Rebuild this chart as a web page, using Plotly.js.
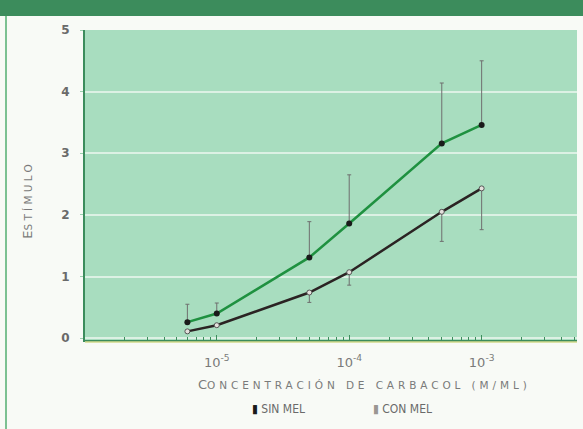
<!DOCTYPE html>
<html><head><meta charset="utf-8">
<script src="https://cdn.plot.ly/plotly-3.0.1.min.js"></script>
<style>
html,body{margin:0;padding:0;background:#f8faf6;overflow:hidden;}
#band{position:absolute;left:0;top:0;width:583px;height:16px;background:#3c8c5c;}
#edge{position:absolute;left:5px;top:16px;width:2px;height:413px;background:#7cc192;}
#chart{position:absolute;left:0;top:0;width:583px;height:429px;}
</style></head><body>
<div id="band"></div><div id="edge"></div><div id="chart"></div>
<script>
// Concentración de carbacol (M/ml)
const concentracion = [6e-6, 1e-5, 5e-5, 1e-4, 5e-4, 1e-3];
// Sin melatonina (green line, black markers)
const sinMel = [0.26, 0.40, 1.31, 1.86, 3.16, 3.46];
const sinMelErrSup = [0.29, 0.17, 0.58, 0.79, 0.98, 1.04];
// Con melatonina (dark line, light markers)
const conMel = [0.11, 0.21, 0.74, 1.07, 2.05, 2.43];
const conMelErrInf = [0, 0, 0.16, 0.21, 0.48, 0.67];
// Tick labels
const xTickVals = [1e-5, 1e-4, 1e-3];
const xTickText = ['10<sup>-5</sup>', '10<sup>-4</sup>', '10<sup>-3</sup>'];
const yTickVals = [0, 1, 2, 3, 4, 5];
// Legend names
const serieNames = ['SIN MEL', 'CON MEL'];

const sc = (big, rest, sp) => big + '<span style="font-size:10.5px;letter-spacing:' + sp + 'px">' + rest + '</span>';

const traces = [
  {
    x: concentracion, y: conMel, type: 'scatter', mode: 'lines+markers', showlegend: false,
    line: {color: '#2b2323', width: 2.5},
    marker: {color: '#e4e0dc', size: 5, symbol: 'circle', line: {color: '#555', width: 1}},
    error_y: {type: 'data', symmetric: false, array: conMelErrInf.map(() => 0), arrayminus: conMelErrInf,
              color: '#6f6f6f', thickness: 1, width: 2}
  },
  {
    x: concentracion, y: sinMel, type: 'scatter', mode: 'lines+markers', showlegend: false,
    line: {color: '#1f9140', width: 2.5},
    marker: {color: '#1a1a1a', size: 6, symbol: 'circle'},
    error_y: {type: 'data', symmetric: false, array: sinMelErrSup, arrayminus: sinMelErrSup.map(() => 0),
              color: '#6f6f6f', thickness: 1, width: 2}
  },
  {x: [null], y: [null], type: 'scatter', mode: 'markers',
   name: '<span style="color:#1a1a1a;font-weight:bold">▮</span> ' + serieNames[0],
   marker: {color: 'rgba(0,0,0,0)', size: 1, symbol: 'square', line: {width: 0}}},
  {x: [null], y: [null], type: 'scatter', mode: 'markers',
   name: '<span style="color:#9a9692;font-weight:bold">▮</span> ' + serieNames[1],
   marker: {color: 'rgba(0,0,0,0)', size: 1, symbol: 'square', line: {width: 0}}}
];

const layout = {
  width: 583, height: 429,
  margin: {l: 85, r: 6, t: 30, b: 87},
  paper_bgcolor: 'rgba(0,0,0,0)',
  plot_bgcolor: '#a8ddbf',
  font: {family: 'DejaVu Sans', color: '#6e6e6e'},
  xaxis: {
    type: 'log', range: [-5.995, -2.28],
    tickmode: 'array', tickvals: xTickVals, ticktext: xTickText,
    ticks: 'inside', ticklen: 5, tickcolor: '#3c8c5c', tickwidth: 1,
    minor: {dtick: 'D1', ticks: 'inside', ticklen: 3, tickcolor: '#3c8c5c', tickwidth: 1, showgrid: false},
    showgrid: false, zeroline: false,
    showline: true, linecolor: '#3c8c5c', linewidth: 2,
    tickfont: {size: 13, color: '#7a7a7a'},
    ticklabelstandoff: 9
  },
  yaxis: {
    range: [-0.03, 5], tickmode: 'array', tickvals: yTickVals,
    ticks: 'outside', ticklen: 3, tickcolor: '#9ccfae', tickwidth: 1,
    showgrid: true, gridcolor: '#dcf1e4', gridwidth: 2, zeroline: false,
    showline: true, linecolor: '#3c8c5c', linewidth: 2,
    tickfont: {size: 12, color: '#6a6a6a', weight: 'bold'},
    ticklabelstandoff: 8
  },
  annotations: [
    {text: sc('C', 'ONCENTRACIÓN DE CARBACOL (M/ML)', 3.9), xref: 'paper', yref: 'paper',
     x: 0.569, y: -0.144, xanchor: 'center', yanchor: 'middle', showarrow: false,
     font: {size: 13, color: '#7a7a7a'}},
    {text: sc('E', 'STÍMULO', 3.3), xref: 'paper', yref: 'paper', textangle: -90,
     x: -0.116, y: 0.452, xanchor: 'center', yanchor: 'middle', showarrow: false,
     font: {size: 13, color: '#7a7a7a'}}
  ],
  shapes: [
    {type: 'line', xref: 'paper', yref: 'paper', x0: 0, x1: 1,
     ysizemode: 'pixel', yanchor: 0, y0: -2, y1: -2, line: {color: '#d3da8c', width: 1.5}, layer: 'above'}
  ],
  showlegend: true,
  legend: {orientation: 'h', x: 0.258, xanchor: 'left', y: -0.221, yanchor: 'middle',
           font: {family: 'DejaVu Sans Condensed', size: 12, color: '#6a6a6a'},
           entrywidth: 76, entrywidthmode: 'pixels',
           itemwidth: 30, bgcolor: 'rgba(0,0,0,0)'}
};

Plotly.newPlot('chart', traces, layout, {displayModeBar: false, staticPlot: true});
</script>
</body></html>
